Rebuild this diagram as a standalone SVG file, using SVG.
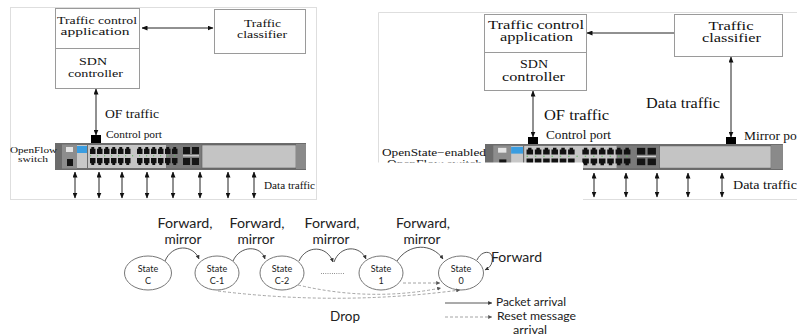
<svg xmlns="http://www.w3.org/2000/svg" width="797" height="335" viewBox="0 0 797 335">
<style>
  .serif { font-family: "Liberation Serif", "Times New Roman", serif; fill: #111; }
  .sans { font-family: Lato, "Open Sans", "Liberation Sans", sans-serif; fill: #222; }
  .mid { text-anchor: middle; }
  .frame { fill: none; stroke: #dedede; stroke-width: 1; }
  .box { fill: #fff; stroke: #9a9a9a; stroke-width: 1; }
  .link { fill: none; stroke: #222; stroke-width: 1; }
  .dbl { marker-start: url(#ah); marker-end: url(#ah); }
  .one { marker-end: url(#ah); }
  .arc { fill: none; stroke: #444; stroke-width: 0.9; marker-end: url(#ahs); }
  .reset { fill: none; stroke: #9a9a9a; stroke-width: 0.9; stroke-dasharray: 3 2; marker-end: url(#ahd); }
  .state { fill: #fff; stroke: #777; stroke-width: 1; }
  .port { fill: #111; }
</style>
<defs>
  <marker id="ah" markerWidth="6" markerHeight="5" refX="5.5" refY="2.5" orient="auto-start-reverse" markerUnits="userSpaceOnUse">
    <path d="M0,0 L6,2.5 L0,5 Z" fill="#111"/>
  </marker>
  <marker id="ahs" markerWidth="4" markerHeight="4" refX="3.8" refY="2" orient="auto" markerUnits="userSpaceOnUse">
    <path d="M0,0 L4,2 L0,4 Z" fill="#333"/>
  </marker>
  <marker id="ahd" markerWidth="4" markerHeight="4" refX="3.8" refY="2" orient="auto" markerUnits="userSpaceOnUse">
    <path d="M0,0 L4,2 L0,4 Z" fill="#555"/>
  </marker>
  <path id="pu" class="port" d="M0,1.8 h1.3 v-1.8 h2.9 v1.8 h1.3 v5.2 h-5.5 z"/>
  <path id="pd" class="port" d="M0,0 h5.5 v5.2 h-1.3 v1.8 h-2.9 v-1.8 h-1.3 z"/>
  <!-- rack switch, drawn 251 x 27 -->
  <g id="switch">
    <rect x="0" y="0" width="251" height="27" fill="#6c6c6c"/>
    <rect x="7" y="1.5" width="15" height="24" fill="#8d8d8d"/>
    <rect x="11" y="4" width="7" height="5" fill="#e4e4e4"/>
    <rect x="12" y="16" width="6" height="7" fill="#151515"/>
    <rect x="22" y="2" width="10" height="23" fill="#c8c8c8"/>
    <rect x="22" y="3" width="10" height="7" fill="#3a9de0"/>
    <rect x="33" y="2" width="78" height="23" fill="#c6c6c6"/>
    <rect x="111" y="2" width="36" height="23" fill="#7a7a7a"/>
    <rect x="147" y="2" width="94" height="23" fill="#c4c4c4" stroke="#5e5e5e" stroke-width="0.6"/>
    <rect x="241" y="1" width="10" height="25" fill="#8a8a8a"/>
    <line x1="35" y1="12.8" x2="123" y2="12.8" stroke="#5cb85c" stroke-width="1" stroke-dasharray="1.2 5.8"/>
    <use href="#pu" x="35" y="4"/><use href="#pu" x="42" y="4"/><use href="#pu" x="49" y="4"/>
    <use href="#pu" x="56" y="4"/><use href="#pu" x="63" y="4"/><use href="#pu" x="70" y="4"/>
    <use href="#pu" x="82" y="4"/><use href="#pu" x="89" y="4"/><use href="#pu" x="96" y="4"/>
    <use href="#pu" x="103" y="4"/><use href="#pu" x="110" y="4"/><use href="#pu" x="117" y="4"/>
    <use href="#pd" x="35" y="15"/><use href="#pd" x="42" y="15"/><use href="#pd" x="49" y="15"/>
    <use href="#pd" x="56" y="15"/><use href="#pd" x="63" y="15"/><use href="#pd" x="70" y="15"/>
    <use href="#pd" x="82" y="15"/><use href="#pd" x="89" y="15"/><use href="#pd" x="96" y="15"/>
    <use href="#pd" x="103" y="15"/><use href="#pd" x="110" y="15"/><use href="#pd" x="117" y="15"/>
    <rect x="128" y="4" width="7" height="7" fill="#151515"/>
    <rect x="137" y="4" width="7" height="7" fill="#151515"/>
    <rect x="128" y="15" width="7" height="7" fill="#151515"/>
    <rect x="137" y="15" width="7" height="7" fill="#151515"/>
    <line x1="128" y1="12.8" x2="144" y2="12.8" stroke="#d8d8d8" stroke-width="1.2"/>
  </g>
</defs>

<rect width="797" height="335" fill="#fff"/>

<!-- ===== OpenFlow setup ===== -->
<rect class="frame" x="10.5" y="7.5" width="306" height="192"/>

<g id="of-controller">
  <rect class="box" x="55.5" y="8.5" width="84" height="80"/>
  <line x1="55.5" y1="48.5" x2="139.5" y2="48.5" stroke="#9a9a9a"/>
  <text class="serif mid" x="97" y="23.5" font-size="10.5" textLength="80" lengthAdjust="spacingAndGlyphs">Traffic control</text>
  <text class="serif mid" x="95" y="35" font-size="10.5" textLength="69" lengthAdjust="spacingAndGlyphs">application</text>
  <text class="serif mid" x="93" y="64.5" font-size="11" textLength="28" lengthAdjust="spacingAndGlyphs">SDN</text>
  <text class="serif mid" x="95.5" y="77" font-size="11" textLength="55" lengthAdjust="spacingAndGlyphs">controller</text>
</g>

<g id="of-classifier">
  <rect class="box" x="214.5" y="9.5" width="91" height="44"/>
  <text class="serif mid" x="262.5" y="26.5" font-size="10.5" textLength="37" lengthAdjust="spacingAndGlyphs">Traffic</text>
  <text class="serif mid" x="262" y="38" font-size="10.5" textLength="50" lengthAdjust="spacingAndGlyphs">classifier</text>
</g>

<g id="of-switch">
  <use href="#switch" transform="translate(55,143)"/>
  <rect x="91" y="135" width="10" height="8" fill="#000"/>
  <text class="serif" x="106" y="138" font-size="10.5" textLength="56" lengthAdjust="spacingAndGlyphs">Control port</text>
  <text class="serif mid" x="33.5" y="152.5" font-size="8" textLength="47" lengthAdjust="spacingAndGlyphs">OpenFlow</text>
  <text class="serif mid" x="33" y="161.5" font-size="8" textLength="30" lengthAdjust="spacingAndGlyphs">switch</text>
</g>

<g id="of-connectors">
  <line class="link dbl" x1="142" y1="28" x2="213" y2="28"/>
  <line class="link dbl" x1="96" y1="89" x2="96" y2="135"/>
  <line class="link dbl" x1="75" y1="172" x2="75" y2="198"/>
  <line class="link dbl" x1="99" y1="172" x2="99" y2="198"/>
  <line class="link dbl" x1="122" y1="172" x2="122" y2="198"/>
  <line class="link dbl" x1="147" y1="172" x2="147" y2="198"/>
  <line class="link dbl" x1="173" y1="172" x2="173" y2="198"/>
  <line class="link dbl" x1="200" y1="172" x2="200" y2="198"/>
  <line class="link dbl" x1="228" y1="172" x2="228" y2="198"/>
  <line class="link dbl" x1="254" y1="172" x2="254" y2="198"/>
  <text class="serif" x="105" y="118" font-size="13.5" textLength="54" lengthAdjust="spacingAndGlyphs">OF traffic</text>
  <text class="serif" x="264" y="189" font-size="10.5" textLength="51" lengthAdjust="spacingAndGlyphs">Data traffic</text>
</g>

<!-- ===== OpenState setup ===== -->
<path class="frame" d="M378.5,163 V12.5 H797"/>
<path class="frame" d="M583,199.5 H797"/>

<g id="os-controller">
  <rect class="box" x="484.5" y="14.5" width="102" height="76"/>
  <line x1="484.5" y1="52.5" x2="586.5" y2="52.5" stroke="#9a9a9a"/>
  <text class="serif mid" x="536" y="28.5" font-size="11.5" textLength="96" lengthAdjust="spacingAndGlyphs">Traffic control</text>
  <text class="serif mid" x="536.5" y="40.5" font-size="11.5" textLength="73" lengthAdjust="spacingAndGlyphs">application</text>
  <text class="serif mid" x="534" y="67.5" font-size="12" textLength="28" lengthAdjust="spacingAndGlyphs">SDN</text>
  <text class="serif mid" x="533.5" y="80.5" font-size="12" textLength="63" lengthAdjust="spacingAndGlyphs">controller</text>
</g>

<g id="os-classifier">
  <rect class="box" x="674.5" y="14.5" width="108" height="42"/>
  <text class="serif mid" x="731" y="30" font-size="11.5" textLength="45" lengthAdjust="spacingAndGlyphs">Traffic</text>
  <text class="serif mid" x="731.5" y="42" font-size="11.5" textLength="59" lengthAdjust="spacingAndGlyphs">classifier</text>
</g>

<g id="os-switch">
  <use href="#switch" transform="translate(485,144) scale(1.187,0.963)"/>
  <rect x="528" y="137" width="10" height="7" fill="#000"/>
  <rect x="726" y="137" width="10" height="7" fill="#000"/>
  <text class="serif" x="546" y="139" font-size="12" textLength="65" lengthAdjust="spacingAndGlyphs">Control port</text>
  <text class="serif" x="744" y="139.5" font-size="12" textLength="61" lengthAdjust="spacingAndGlyphs">Mirror port</text>
  <text class="serif" x="486" y="155.5" font-size="10.5" text-anchor="end" textLength="104" lengthAdjust="spacingAndGlyphs">OpenState−enabled</text>
  <text class="serif" x="482" y="167" font-size="10.5" text-anchor="end" textLength="95" lengthAdjust="spacingAndGlyphs">OpenFlow switch</text>
</g>

<g id="os-connectors">
  <line class="link one" x1="674" y1="33" x2="587" y2="33"/>
  <line class="link dbl" x1="533" y1="91" x2="533" y2="137"/>
  <line class="link dbl" x1="731" y1="57" x2="731" y2="137"/>
  <line class="link dbl" x1="594" y1="173" x2="594" y2="197"/>
  <line class="link dbl" x1="626" y1="173" x2="626" y2="197"/>
  <line class="link dbl" x1="657" y1="173" x2="657" y2="197"/>
  <line class="link dbl" x1="688" y1="173" x2="688" y2="197"/>
  <line class="link dbl" x1="722" y1="173" x2="722" y2="197"/>
  <text class="serif" x="544" y="120" font-size="14" textLength="65" lengthAdjust="spacingAndGlyphs">OF traffic</text>
  <text class="serif" x="646" y="108" font-size="14" textLength="74" lengthAdjust="spacingAndGlyphs">Data traffic</text>
  <text class="serif" x="733" y="189" font-size="12" textLength="64" lengthAdjust="spacingAndGlyphs">Data traffic</text>
</g>

<!-- lower state machine sits on a white sheet over the switch -->
<rect x="370" y="162.5" width="213" height="40" fill="#fff"/>

<!-- ===== state machine ===== -->
<g id="state-c">
  <ellipse class="state" cx="148" cy="273" rx="23.5" ry="17"/>
  <text class="sans mid" x="148" y="271.5" font-size="9">State</text>
  <text class="sans mid" x="148" y="284" font-size="9">C</text>
</g>
<g id="state-c-1">
  <ellipse class="state" cx="217" cy="273" rx="22" ry="17"/>
  <text class="sans mid" x="217" y="271.5" font-size="9">State</text>
  <text class="sans mid" x="217" y="284" font-size="9">C-1</text>
</g>
<g id="state-c-2">
  <ellipse class="state" cx="282" cy="273" rx="22" ry="17"/>
  <text class="sans mid" x="282" y="271.5" font-size="9">State</text>
  <text class="sans mid" x="282" y="284" font-size="9">C-2</text>
</g>
<g id="state-1">
  <ellipse class="state" cx="381" cy="273" rx="22" ry="17"/>
  <text class="sans mid" x="381" y="271.5" font-size="9">State</text>
  <text class="sans mid" x="381" y="284" font-size="9">1</text>
</g>
<g id="state-0">
  <ellipse class="state" cx="461" cy="273" rx="22.5" ry="17"/>
  <text class="sans mid" x="461" y="271.5" font-size="9">State</text>
  <text class="sans mid" x="461" y="284" font-size="9">0</text>
</g>

<g id="transitions">
  <path class="arc" d="M165,261 C172,244 193,244 199,259"/>
  <path class="arc" d="M233,261 C240,245 261,245 265,259"/>
  <path class="arc" d="M299,261 C306,245 327,245 333,262"/>
  <path class="arc" d="M334,262 C340,245 360,245 366,259"/>
  <path class="arc" d="M397,261 C409,243 432,243 443,259"/>
  <path class="arc" d="M477,260 C482,249 495,250 492,262 C491,266 489,268 485,270"/>
  <line x1="321" y1="273.5" x2="345" y2="273.5" stroke="#555" stroke-width="0.8" stroke-dasharray="0.8 1.4"/>
  <path class="reset" d="M403,283 L440,283"/>
  <path class="reset" d="M298,285 Q370,302 441,288"/>
  <path class="reset" d="M218,291 Q340,306 460,290"/>

  <text class="sans mid" x="185" y="228" font-size="12.5" textLength="55" lengthAdjust="spacingAndGlyphs">Forward,</text>
  <text class="sans mid" x="183" y="244" font-size="12.5" textLength="37" lengthAdjust="spacingAndGlyphs">mirror</text>
  <text class="sans mid" x="257" y="228" font-size="12.5" textLength="55" lengthAdjust="spacingAndGlyphs">Forward,</text>
  <text class="sans mid" x="256" y="244" font-size="12.5" textLength="37" lengthAdjust="spacingAndGlyphs">mirror</text>
  <text class="sans mid" x="332" y="228" font-size="12.5" textLength="55" lengthAdjust="spacingAndGlyphs">Forward,</text>
  <text class="sans mid" x="331" y="244" font-size="12.5" textLength="37" lengthAdjust="spacingAndGlyphs">mirror</text>
  <text class="sans mid" x="423" y="228" font-size="12.5" textLength="54" lengthAdjust="spacingAndGlyphs">Forward,</text>
  <text class="sans mid" x="422" y="244" font-size="12.5" textLength="37" lengthAdjust="spacingAndGlyphs">mirror</text>
  <text class="sans" x="491" y="262" font-size="13" textLength="51" lengthAdjust="spacingAndGlyphs">Forward</text>
  <text class="sans mid" x="345" y="321" font-size="13" textLength="30" lengthAdjust="spacingAndGlyphs">Drop</text>
</g>

<g id="legend">
  <line x1="445" y1="303" x2="492" y2="303" stroke="#444" stroke-width="0.9" marker-end="url(#ahs)"/>
  <line x1="445" y1="317" x2="492" y2="317" stroke="#9a9a9a" stroke-width="0.9" stroke-dasharray="3 2" marker-end="url(#ahd)"/>
  <text class="sans" x="496" y="306" font-size="11.5" textLength="70" lengthAdjust="spacingAndGlyphs">Packet arrival</text>
  <text class="sans" x="497" y="320" font-size="11.5" textLength="79" lengthAdjust="spacingAndGlyphs">Reset message</text>
  <text class="sans" x="513" y="334" font-size="11.5" textLength="34" lengthAdjust="spacingAndGlyphs">arrival</text>
</g>
</svg>
